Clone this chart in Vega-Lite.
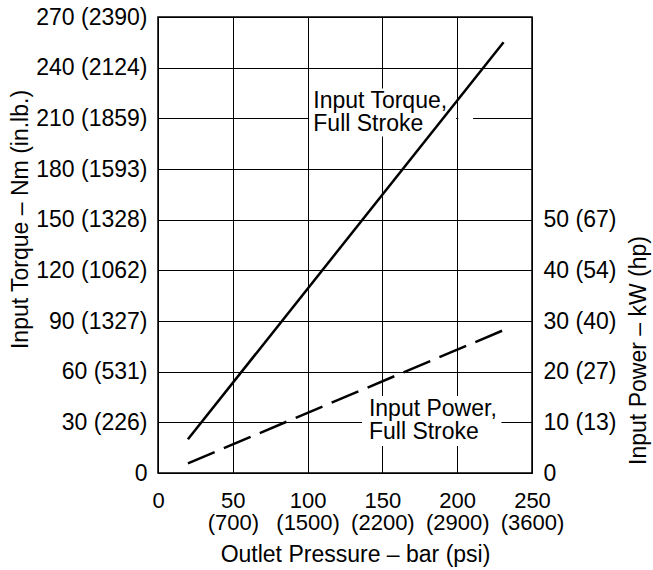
{
  "$schema": "https://vega.github.io/schema/vega-lite/v6.json",
  "width": 374,
  "height": 456,
  "autosize": {"type": "none"},
  "padding": {"left": 158, "top": 17, "right": 121, "bottom": 97},
  "background": "white",
  "config": {
    "font": "Liberation Sans",
    "view": {"stroke": "#000", "strokeWidth": 1.5},
    "axis": {
      "domain": false,
      "ticks": false,
      "tickSize": 0,
      "labelFont": "Liberation Sans",
      "labelFontSize": 23,
      "labelColor": "#000",
      "labelOverlap": false,
      "labelFlush": false,
      "labelBound": false,
      "titleFont": "Liberation Sans",
      "titleFontSize": 23,
      "titleFontWeight": "normal",
      "titleColor": "#000",
      "gridColor": "#000",
      "gridOpacity": 1,
      "gridWidth": 1
    }
  },
  "resolve": {"scale": {"y": "independent"}},
  "layer": [
    {
      "layer": [
        {
          "data": {"values": [
            {"x0": 101, "x1": 199.3, "y0": 199.2, "y1": 227.7},
            {"x0": 200.7, "x1": 210.6, "y0": 199.2, "y1": 227.7},
            {"x0": 136.4, "x1": 229.6, "y0": 16, "y1": 45.6}
          ]},
          "mark": {"type": "rect", "fill": "white", "strokeWidth": 0},
          "encoding": {
            "x": {
              "field": "x0", "type": "quantitative",
              "scale": {"domain": [0, 250], "nice": false, "zero": true},
              "axis": {
                "values": [0, 50, 100, 150, 200, 250],
                "grid": true,
                "labelFontSize": 22,
                "labelPadding": 17,
                "labelBaseline": "top",
                "labelLineHeight": 22,
                "labelExpr": "datum.value == 0 ? '0' : datum.value == 50 ? ['50', '(700)'] : datum.value == 100 ? ['100', '(1500)'] : datum.value == 150 ? ['150', '(2200)'] : datum.value == 200 ? ['200', '(2900)'] : ['250', '(3600)']",
                "title": "Outlet Pressure – bar (psi)",
                "titleX": 197,
                "titleY": 88,
                "titleBaseline": "alphabetic",
                "titleAlign": "center"
              }
            },
            "x2": {"field": "x1"},
            "y": {
              "field": "y0", "type": "quantitative",
              "scale": {"domain": [0, 270], "nice": false},
              "axis": {
                "values": [0, 30, 60, 90, 120, 150, 180, 210, 240, 270],
                "grid": true,
                "labelPadding": 11,
                "labelBaseline": "middle",
                "labelExpr": "datum.value == 0 ? '0' : datum.value == 30 ? '30 (226)' : datum.value == 60 ? '60 (531)' : datum.value == 90 ? '90 (1327)' : datum.value == 120 ? '120 (1062)' : datum.value == 150 ? '150 (1328)' : datum.value == 180 ? '180 (1593)' : datum.value == 210 ? '210 (1859)' : datum.value == 240 ? '240 (2124)' : '270 (2390)'",
                "title": "Input Torque – Nm (in.lb.)",
                "titleAngle": 270,
                "titleX": -131,
                "titleY": 202,
                "titleBaseline": "alphabetic",
                "titleAlign": "center"
              }
            },
            "y2": {"field": "y1"}
          }
        },
        {
          "data": {"values": [
            {"bar": 20, "nm": 20},
            {"bar": 231, "nm": 255}
          ]},
          "mark": {"type": "line", "color": "#000", "strokeWidth": 2.5, "strokeCap": "butt"},
          "encoding": {
            "x": {"field": "bar", "type": "quantitative"},
            "y": {"field": "nm", "type": "quantitative"}
          }
        },
        {
          "data": {"values": [
            {"x": 103.8, "y": 215.9, "label": ["Input Torque,", "Full Stroke"]},
            {"x": 141, "y": 33.5, "label": ["Input Power,", "Full Stroke"]}
          ]},
          "mark": {"type": "text", "align": "left", "baseline": "alphabetic", "fontSize": 23, "lineHeight": 23, "font": "Liberation Sans", "color": "#000"},
          "encoding": {
            "x": {"field": "x", "type": "quantitative"},
            "y": {"field": "y", "type": "quantitative"},
            "text": {"field": "label"}
          }
        }
      ]
    },
    {
      "data": {"values": [
        {"bar": 20, "kw": 1.9},
        {"bar": 231, "kw": 28.2}
      ]},
      "mark": {"type": "line", "color": "#000", "strokeWidth": 2.5, "strokeDash": [29, 10], "strokeCap": "butt"},
      "encoding": {
        "x": {"field": "bar", "type": "quantitative"},
        "y": {
          "field": "kw", "type": "quantitative",
          "scale": {"domain": [0, 90], "nice": false},
          "axis": {
            "orient": "right",
            "values": [0, 10, 20, 30, 40, 50],
            "grid": false,
            "labelPadding": 11,
            "labelBaseline": "middle",
            "labelExpr": "datum.value == 0 ? '0' : datum.value == 10 ? '10 (13)' : datum.value == 20 ? '20 (27)' : datum.value == 30 ? '30 (40)' : datum.value == 40 ? '40 (54)' : '50 (67)'",
            "title": "Input Power – kW (hp)",
            "titleAngle": 270,
            "titleX": 113,
            "titleY": 333,
            "titleBaseline": "alphabetic",
            "titleAlign": "center"
          }
        }
      }
    }
  ]
}
